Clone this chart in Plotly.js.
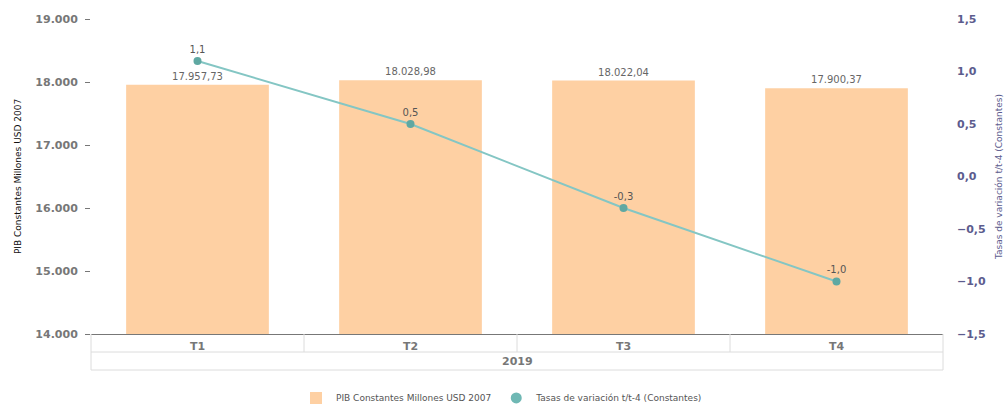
<!DOCTYPE html>
<html>
<head>
<meta charset="utf-8">
<script src="https://cdn.plot.ly/plotly-3.0.1.min.js"></script>
<style>
  html, body { margin: 0; padding: 0; background: #fff; }
  #chart { width: 1004px; height: 404px; }
</style>
</head>
<body>
<div id="chart"></div>
<script>
// Quarterly GDP at constant prices and year-on-year growth rate, 2019
const quarters = ['T1', 'T2', 'T3', 'T4'];
const year = '2019';
const pib = [17957.73, 18028.98, 18022.04, 17900.37];
const tasas = [1.1, 0.5, -0.3, -1.0];
const pibName = 'PIB Constantes Millones USD 2007';
const tasasName = 'Tasas de variación t/t-4 (Constantes)';

const FONT = 'DejaVu Sans, Verdana, sans-serif';
const tasaLabels = tasas.map(v => v.toFixed(1).replace('.', ','));

const barTrace = {
  type: 'bar',
  name: pibName,
  x: quarters,
  y: pib,
  width: 0.67,
  marker: { color: '#fed0a3', line: { width: 0 } },
  texttemplate: '%{y:,.2f}',
  textposition: 'outside',
  cliponaxis: false,
  textfont: { family: FONT, size: 10, color: '#666666' },
  hoverinfo: 'x+y'
};

const lineTrace = {
  type: 'scatter',
  mode: 'lines+markers+text',
  name: tasasName,
  showlegend: false,
  x: quarters,
  y: tasas,
  yaxis: 'y2',
  line: { color: '#84c6c4', width: 2 },
  marker: { color: '#5fa8a2', size: 8 },
  text: tasaLabels,
  textposition: 'top center',
  textfont: { family: FONT, size: 10, color: '#555555' },
  cliponaxis: false
};

// legend entry for the growth series: a plain dot, as in the key
const lineKey = {
  type: 'scatter',
  mode: 'markers',
  name: tasasName,
  x: [null],
  y: [null],
  yaxis: 'y2',
  marker: { color: '#6fb8b4', size: 11 },
  hoverinfo: 'skip'
};

const gridColor = '#dcdcdc';
const row1 = -18 / 315;
const row2 = -36 / 315;
const shapes = [
  { type: 'line', xref: 'paper', yref: 'paper', x0: 0, x1: 1, y0: row1, y1: row1, line: { color: gridColor, width: 1 } },
  { type: 'line', xref: 'paper', yref: 'paper', x0: 0, x1: 1, y0: row2, y1: row2, line: { color: gridColor, width: 1 } },
  { type: 'line', xref: 'paper', yref: 'paper', x0: 0, x1: 0, y0: 0, y1: row2, line: { color: gridColor, width: 1 } },
  { type: 'line', xref: 'paper', yref: 'paper', x0: 1, x1: 1, y0: 0, y1: row2, line: { color: gridColor, width: 1 } }
];
// dividers between the quarter cells
for (let i = 0; i < quarters.length - 1; i++) {
  shapes.push({ type: 'line', xref: 'x', yref: 'paper', x0: i + 0.5, x1: i + 0.5, y0: 0, y1: row1, line: { color: gridColor, width: 1 } });
}

const layout = {
  width: 1004,
  height: 404,
  margin: { l: 91, r: 61, t: 19, b: 70, autoexpand: false },
  paper_bgcolor: '#ffffff',
  plot_bgcolor: '#ffffff',
  separators: ',.',
  font: { family: FONT, size: 10, color: '#666666' },
  showlegend: true,
  legend: {
    orientation: 'h',
    xref: 'container', yref: 'container',
    x: 0.5, xanchor: 'center',
    y: 0.015, yanchor: 'middle',
    font: { family: FONT, size: 9, color: '#555555' },
    itemwidth: 30,
    tracegroupgap: 0
  },
  xaxis: {
    type: 'category',
    automargin: false,
    showgrid: false,
    showline: true,
    linecolor: '#777777',
    linewidth: 1,
    ticks: '',
    tickfont: { family: FONT, size: 11, color: '#777777', weight: 'bold' },
    ticklabelstandoff: 2,
    zeroline: false,
    fixedrange: true
  },
  yaxis: {
    range: [14000, 19000],
    automargin: false,
    dtick: 1000,
    tickformat: ',d',
    showgrid: false,
    zeroline: false,
    showline: false,
    ticks: 'outside',
    ticklen: 5,
    tickcolor: '#777777',
    ticklabelstandoff: 5,
    tickfont: { family: FONT, size: 11, color: '#777777', weight: 'bold' },
    title: { text: pibName, font: { family: FONT, size: 9, color: '#111111' }, standoff: 12 },
    fixedrange: true
  },
  yaxis2: {
    overlaying: 'y',
    side: 'right',
    automargin: false,
    range: [-1.5, 1.5],
    dtick: 0.5,
    tickformat: '.1f',
    showgrid: false,
    zeroline: false,
    showline: false,
    ticks: '',
    ticklabelstandoff: 13,
    tickfont: { family: FONT, size: 11, color: '#5c5c8e', weight: 'bold' },
    title: { text: tasasName, font: { family: FONT, size: 9, color: '#5c5c8e' }, standoff: 10 },
    fixedrange: true
  },
  shapes: shapes,
  annotations: [
    {
      xref: 'paper', yref: 'paper', x: 0.5, y: (row1 + row2) / 2,
      text: year, showarrow: false, xanchor: 'center', yanchor: 'middle',
      font: { family: FONT, size: 11, color: '#777777', weight: 'bold' }
    }
  ]
};

Plotly.newPlot('chart', [barTrace, lineTrace, lineKey], layout, { displayModeBar: false, staticPlot: true });
</script>
</body>
</html>
